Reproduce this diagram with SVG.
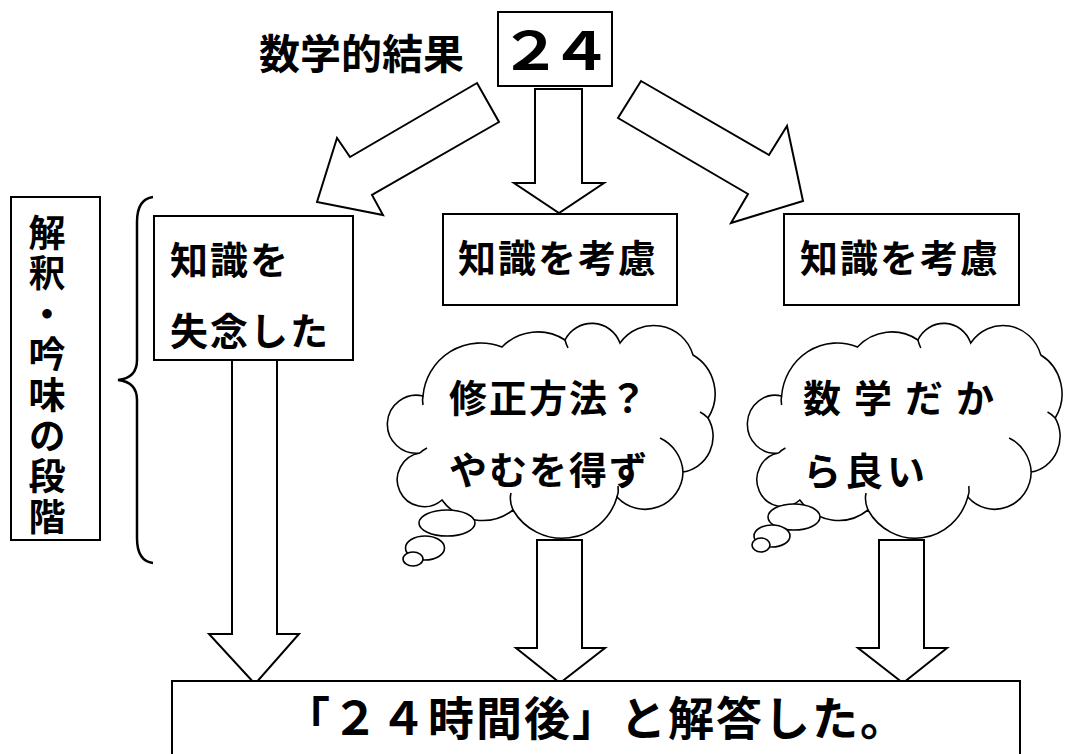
<svg xmlns="http://www.w3.org/2000/svg" xmlns:xlink="http://www.w3.org/1999/xlink" width="1071" height="754" viewBox="0 0 1071 754">
<style>
.box{fill:#fff;stroke:#000;stroke-width:2}
.arrow{fill:#fff;stroke:#000;stroke-width:2;stroke-linejoin:miter}
.cloud{fill:#fff;stroke:#000;stroke-width:1.6}
.inner{fill:none;stroke:#000;stroke-width:1.6}
.t{font-family:"Noto Sans CJK JP","Noto Sans CJK SC",sans-serif;font-weight:bold;fill:#000}
</style>
<defs>
<path id="cloudShape" d="M442,500 A27,27 0 1 1 420,453 A29,29 0 1 1 423,396 A58,58 0 0 1 502,347 A50,50 0 0 1 565,340 A30,30 0 0 1 620,343 A41,41 0 0 1 693,355 A45,45 0 0 1 708,418 A36,36 0 0 1 683,472 A38,38 0 0 1 617,497 A57,57 0 0 1 513,510 A50,50 0 0 1 442,500 Z"/>
<g id="cloudInner">
<path d="M683,472 A40,40 0 0 0 660,438"/>
<path d="M513,510 Q509,501 511,493"/>
<path d="M617,497 Q619,492 618,486"/>
<path d="M420,453 Q423,450 427,448"/>
<path d="M423,396 Q422,400 423,405"/>
<path d="M565,340 Q566,344 568,348"/>
<path d="M708,418 Q704,414 700,412"/>
</g>
</defs>
<rect width="1071" height="754" fill="#fff"/>

<g id="connectors">
<polygon class="arrow" points="535,89 582,89 582,183 604,183 559,213 514,183 535,183"/>
<polygon class="arrow" points="477,83 499,122 372,195 383,215 317,202 337,138 350,157"/>
<polygon class="arrow" points="641,81 769,155 787,126 803,201 731,223 748,194 618,118"/>
<polygon class="arrow" points="232,360 277,360 277,634 299,634 255,684 209,634 232,634"/>
<polygon class="arrow" points="537,540 582,540 582,648 605,648 560,683 516,648 537,648"/>
<polygon class="arrow" points="879,540 924,540 924,648 947,648 903,683 858,648 879,648"/>
</g>

<g id="result-label">
<text class="t" x="259" y="69" font-size="41">数学的結果</text>
</g>

<g id="node-24">
<rect class="box" x="498" y="12" width="114" height="74"/>
<text class="t" y="70" font-size="52" text-anchor="middle" transform="scale(1.2,1)" x="442.1 484.2">２４</text>
</g>

<g id="stage-label">
<rect class="box" x="11" y="197" width="89" height="343"/>
<text class="t" x="47" y="214" font-size="37" letter-spacing="3.6" style="writing-mode:vertical-rl;text-orientation:upright">解釈・吟味の段階</text>
</g>

<g id="brace">
<path d="M153,197 Q137,199 137,222 L137,360 Q137,378 118,380 Q137,382 137,400 L137,538 Q137,561 153,563" fill="none" stroke="#000" stroke-width="2.5"/>
</g>

<g id="node-forgot">
<rect class="box" x="154" y="216" width="199" height="144"/>
<text class="t" font-size="38" letter-spacing="2"><tspan x="170" y="274">知識を</tspan><tspan x="170" y="345">失念した</tspan></text>
</g>

<g id="node-consider-1">
<rect class="box" x="443" y="214" width="234" height="91"/>
<text class="t" x="458" y="272" font-size="38" letter-spacing="2">知識を考慮</text>
</g>

<g id="node-consider-2">
<rect class="box" x="784" y="214" width="235" height="91"/>
<text class="t" x="800" y="272" font-size="38" letter-spacing="2">知識を考慮</text>
</g>

<g id="cloud-1">
<use xlink:href="#cloudShape" class="cloud"/>
<use xlink:href="#cloudInner" class="inner"/>
<ellipse class="cloud" cx="447" cy="523" rx="28" ry="13"/>
<ellipse class="cloud" cx="425" cy="548" rx="19.5" ry="12"/>
<ellipse class="cloud" cx="413" cy="559" rx="10" ry="7"/>
<text class="t" font-size="38" letter-spacing="2"><tspan x="449" y="412">修正方法？</tspan><tspan x="449" y="484">やむを得ず</tspan></text>
</g>

<g id="cloud-2">
<g transform="translate(748,0) scale(0.96,1) translate(-388,0)">
<use xlink:href="#cloudShape" class="cloud"/>
<use xlink:href="#cloudInner" class="inner"/>
</g>
<ellipse class="cloud" cx="794" cy="517" rx="26" ry="13"/>
<ellipse class="cloud" cx="772" cy="536" rx="18" ry="11"/>
<ellipse class="cloud" cx="761" cy="545" rx="9" ry="7"/>
<text class="t" font-size="38"><tspan x="803" y="412" letter-spacing="13">数学だか</tspan><tspan x="803" y="485" letter-spacing="4">ら良い</tspan></text>
</g>

<g id="node-answer">
<rect class="box" x="172" y="681" width="848" height="100"/>
<text class="t" x="284" y="735" font-size="46" letter-spacing="2">「２４時間後」と解答した。</text>
</g>
</svg>
